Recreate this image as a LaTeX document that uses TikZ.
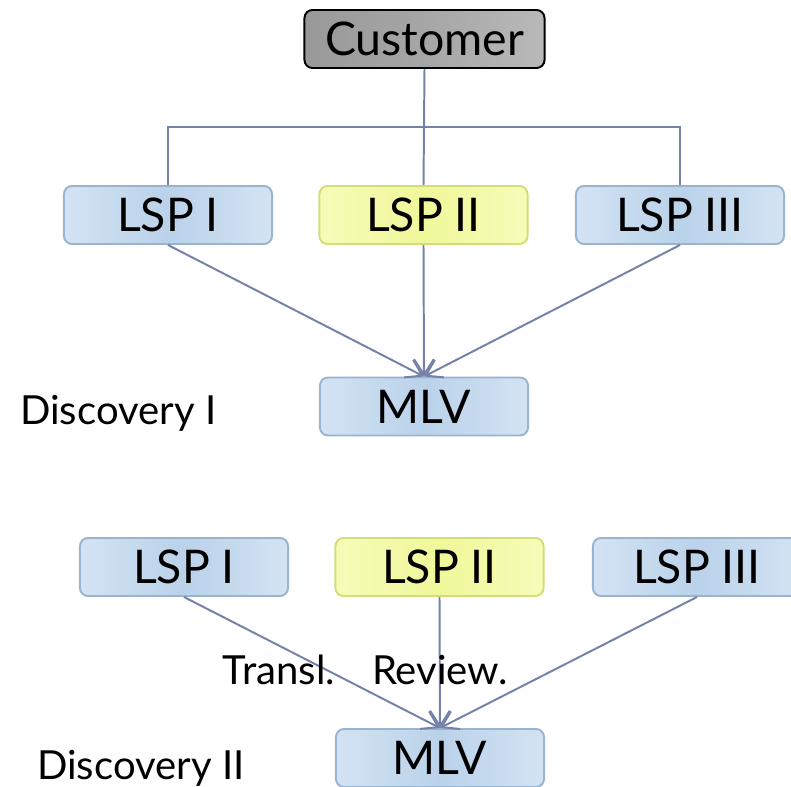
\documentclass[tikz,border=0pt]{standalone}
\usepackage{fontspec}
\setmainfont{Lato}
\usetikzlibrary{arrows.meta}
\definecolor{bluelight}{HTML}{D3E3F3}
\definecolor{bluedark}{HTML}{BAD2EA}
\definecolor{blueline}{HTML}{9AB3CF}
\definecolor{yellowlight}{HTML}{F7FBB8}
\definecolor{yellowdark}{HTML}{F0F89A}
\definecolor{yellowline}{HTML}{D6DC78}
\definecolor{linkcol}{HTML}{7482A8}

\begin{document}
\begin{tikzpicture}[x=0.025cm,y=-0.025cm,
    box/.style={draw=blueline,line width=1.4pt,rounded corners=0.2cm,
      minimum width=5.2cm,minimum height=1.45cm,inner sep=0pt,
      shading=axis,shading angle=45,left color=bluelight,right color=bluelight,middle color=bluedark,
      font=\fontsize{33}{38}\selectfont},
    hibox/.style={box,draw=yellowline,left color=yellowlight,right color=yellowlight,middle color=yellowdark},
    custbox/.style={box,draw=black,minimum width=6cm,left color=gray!80,right color=gray!55,middle color=gray!70},
    link/.style={draw=linkcol,line width=1.4pt},
    arr/.style={link,-{Straight Barb[length=11pt,width=14pt]}},
    lbl/.style={inner sep=0pt,font=\fontsize{28.5}{34}\selectfont}]
	\useasboundingbox (0,0) rectangle (791,787);
	% first discovery
	\node[custbox] (cust) at (424.5,39) {Customer};
	\node[box] (lspa) at (168,215) {LSP I};
	\node[hibox] (lspb) at (423.5,215) {LSP II};
	\node[box] (lspc) at (680,215) {LSP III};
	\node[box] (mlva) at (424,406.5) {MLV};
	\coordinate (bar) at (424,127);
	\draw[link] (cust.south) -- (lspb.north);
	\draw[link] (lspa.north) |- (bar) -| (lspc.north);
	\draw[arr] (lspa.south) -- (mlva.north);
	\draw[arr] (lspb.south) -- (mlva.north);
	\draw[arr] (lspc.south) -- (mlva.north);
	\node[lbl,anchor=west] (disca) at (20,413) {Discovery I};
	% second discovery
	\node[box] (lspd) at (184,567) {LSP I};
	\node[hibox] (lspe) at (439.5,567) {LSP II};
	\node[box] (lspf) at (697,567) {LSP III};
	\node[box] (mlvb) at (440,758) {MLV};
	\draw[arr] (lspd.south) -- (mlvb.north);
	\draw[arr] (lspe.south) -- (mlvb.north);
	\draw[arr] (lspf.south) -- (mlvb.north);
	\node[lbl] (transl) at (279,670) {Transl.};
	\node[lbl] (review) at (440,670) {Review.};
	\node[lbl,anchor=west] (discb) at (37,768) {Discovery II};
\end{tikzpicture}
\end{document}
